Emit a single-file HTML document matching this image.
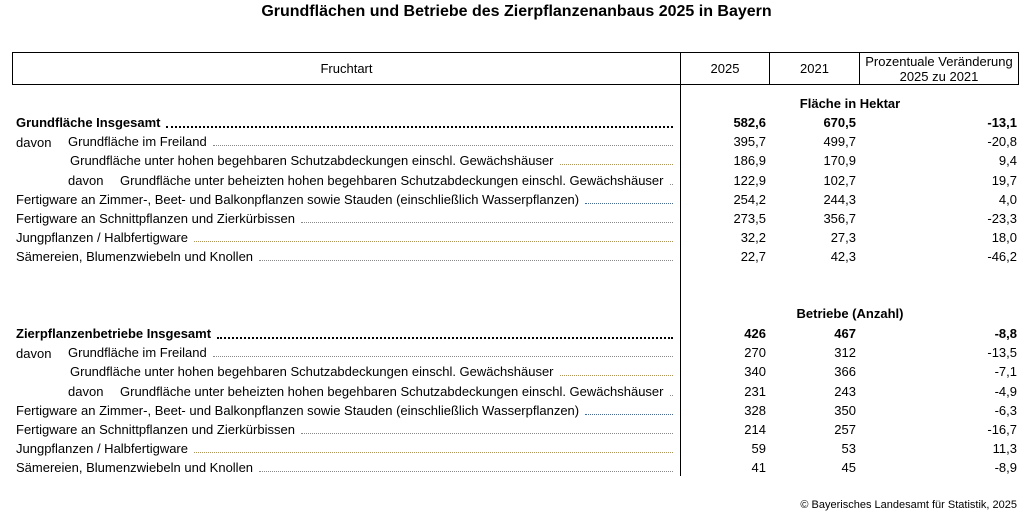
<!DOCTYPE html>
<html><head><meta charset="utf-8"><style>
body{margin:0;width:1033px;height:526px;background:#fff;font-family:"Liberation Sans",Arial,sans-serif;font-size:13px;color:#000;position:relative;overflow:hidden}
.a{position:absolute;white-space:nowrap}
.t{left:0;width:1033px;text-align:center;top:3px;font-weight:bold;font-size:16px}
.hd{position:absolute;top:52px;height:33px;border:1px solid #000;box-sizing:border-box;display:flex;align-items:center;justify-content:center;text-align:center;line-height:15px}
.row{position:absolute;height:15px;display:flex;align-items:flex-end;line-height:15px}
.row .f{flex:1;border-bottom:1px dotted #888;margin:0 4px 3px 6px;height:0}
.o .f{border-bottom-color:#c8901e}.bl .f{border-bottom-color:#2a6fb8}.b .f{border-bottom:2px dotted #000;margin-bottom:2px}
.b{font-weight:bold}
.v{position:absolute;text-align:right;line-height:15px}
</style></head><body>
<div class="a t">Grundflächen und Betriebe des Zierpflanzenanbaus 2025 in Bayern</div>
<div class="hd" style="left:12px;width:669px">Fruchtart</div>
<div class="hd" style="left:680px;width:90px">2025</div>
<div class="hd" style="left:769px;width:91px">2021</div>
<div class="hd" style="left:859px;width:160px">Prozentuale Veränderung<br>2025 zu 2021</div>
<div class="a" style="left:680px;top:85px;width:1px;height:391px;background:#000"></div>
<div id="c"></div>
<div class="a" style="right:16px;top:499px;font-size:11px">© Bayerisches Landesamt für Statistik, 2025</div>
<script>
var blocks=[[96,"Fläche in Hektar",115,[["582,6","670,5","-13,1"],["395,7","499,7","-20,8"],["186,9","170,9","9,4"],["122,9","102,7","19,7"],["254,2","244,3","4,0"],["273,5","356,7","-23,3"],["32,2","27,3","18,0"],["22,7","42,3","-46,2"]],"Grundfläche Insgesamt"],
[306,"Betriebe (Anzahl)",326,[["426","467","-8,8"],["270","312","-13,5"],["340","366","-7,1"],["231","243","-4,9"],["328","350","-6,3"],["214","257","-16,7"],["59","53","11,3"],["41","45","-8,9"]],"Zierpflanzenbetriebe Insgesamt"]];
var labels=[[null,16,"b"],["Grundfläche im Freiland",68,"",1],["Grundfläche unter hohen begehbaren Schutzabdeckungen einschl. Gewächshäuser",70,"o"],["Grundfläche unter beheizten hohen begehbaren Schutzabdeckungen einschl. Gewächshäuser",120,"",2],["Fertigware an Zimmer-, Beet- und Balkonpflanzen sowie Stauden (einschließlich Wasserpflanzen)",16,"bl"],["Fertigware an Schnittpflanzen und Zierkürbissen",16,""],["Jungpflanzen / Halbfertigware",16,"o"],["Sämereien, Blumenzwiebeln und Knollen",16,""]];
var h="";
blocks.forEach(function(b){
h+='<div class="a" style="left:681px;width:338px;text-align:center;top:'+b[0]+'px;font-weight:bold">'+b[1]+'</div>';
for(var i=0;i<8;i++){var y=b[2]+i*19.2,l=labels[i],txt=l[0]||b[4],cls=l[2];
if(l[3]==1)h+='<div class="a" style="left:16px;top:'+(y+1)+'px;line-height:15px">davon</div>';
if(l[3]==2)h+='<div class="a" style="left:68px;top:'+(y)+'px;line-height:15px">davon</div>';
h+='<div class="row '+cls+'" style="left:'+l[1]+'px;width:'+(677-l[1])+'px;top:'+y+'px"><span>'+txt+'</span><span class="f"></span></div>';
var fw=i==0?'font-weight:bold;':'';
h+='<div class="v" style="'+fw+'left:690px;width:76px;top:'+y+'px">'+b[3][i][0]+'</div>';
h+='<div class="v" style="'+fw+'left:780px;width:76px;top:'+y+'px">'+b[3][i][1]+'</div>';
h+='<div class="v" style="'+fw+'left:900px;width:117px;top:'+y+'px">'+b[3][i][2]+'</div>';}
});
document.getElementById("c").innerHTML=h;
</script>
</body></html>
